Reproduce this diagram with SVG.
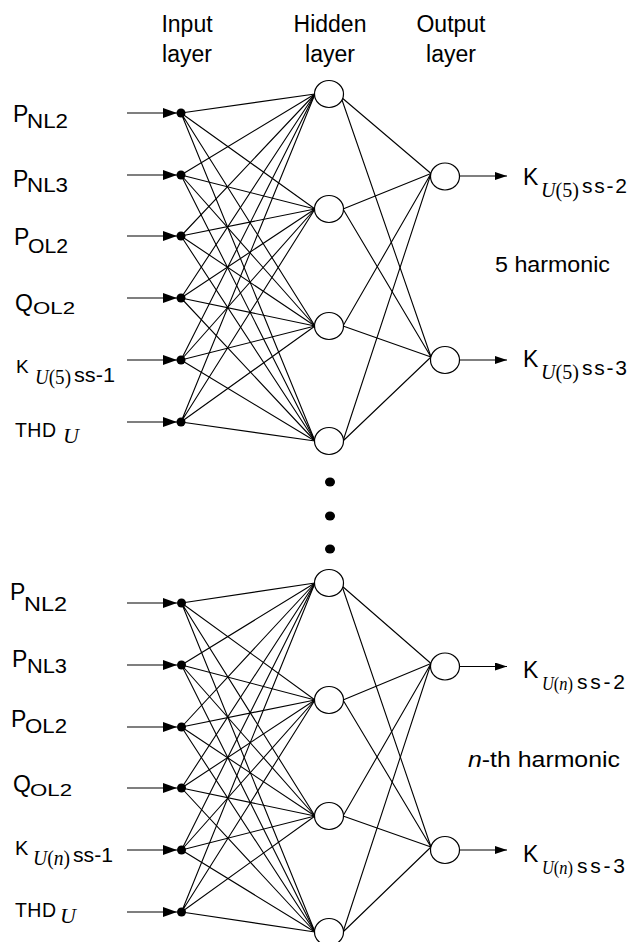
<svg xmlns="http://www.w3.org/2000/svg" width="631" height="942" viewBox="0 0 631 942">
<style>
.t{font-family:"Liberation Sans",Arial,sans-serif;fill:#000}
.s{font-family:"Liberation Serif","Times New Roman",serif;fill:#000}
.i{font-style:italic}
.h{font-size:23px;text-anchor:middle}
.c{stroke:#000;stroke-width:1.1;fill:none}
.n{fill:#fff;stroke:#000;stroke-width:1.2}
.d{fill:#000}
</style>
<defs>
<marker id="ai" markerUnits="userSpaceOnUse" markerWidth="14" markerHeight="10" refX="14" refY="5" orient="auto"><path d="M0,0L14,5L0,10z" fill="#000"/></marker>
<marker id="ao" markerUnits="userSpaceOnUse" markerWidth="12" markerHeight="8" refX="12" refY="4" orient="auto"><path d="M0,0L12,4L0,8z" fill="#000"/></marker>
</defs>
<rect width="631" height="942" fill="#fff"/>
<g id="headers">
<text class="t h" x="187" y="32">Input</text><text class="t h" x="187" y="62">layer</text>
<text class="t h" x="330" y="32">Hidden</text><text class="t h" x="330" y="62">layer</text>
<text class="t h" x="451" y="32">Output</text><text class="t h" x="451" y="62">layer</text>
</g>
<g id="connectors">
<g id="input-arrows" class="c">
<line x1="127" y1="113" x2="177" y2="113" marker-end="url(#ai)"/>
<line x1="127" y1="175" x2="177" y2="175" marker-end="url(#ai)"/>
<line x1="127" y1="236" x2="177" y2="236" marker-end="url(#ai)"/>
<line x1="127" y1="298" x2="177" y2="298" marker-end="url(#ai)"/>
<line x1="127" y1="360" x2="177" y2="360" marker-end="url(#ai)"/>
<line x1="127" y1="422" x2="177" y2="422" marker-end="url(#ai)"/>
<line x1="127" y1="603" x2="177" y2="603" marker-end="url(#ai)"/>
<line x1="127" y1="665" x2="177" y2="665" marker-end="url(#ai)"/>
<line x1="127" y1="727" x2="177" y2="727" marker-end="url(#ai)"/>
<line x1="127" y1="788" x2="177" y2="788" marker-end="url(#ai)"/>
<line x1="127" y1="850" x2="177" y2="850" marker-end="url(#ai)"/>
<line x1="127" y1="912" x2="177" y2="912" marker-end="url(#ai)"/>
</g>
<g id="input-hidden" class="c">
<path d="M181 113L315 94M181 113L315 209M181 113L315 326M181 113L315 441"/>
<path d="M181 175L315 94M181 175L315 209M181 175L315 326M181 175L315 441"/>
<path d="M181 236L315 94M181 236L315 209M181 236L315 326M181 236L315 441"/>
<path d="M181 298L315 94M181 298L315 209M181 298L315 326M181 298L315 441"/>
<path d="M181 360L315 94M181 360L315 209M181 360L315 326M181 360L315 441"/>
<path d="M181 422L315 94M181 422L315 209M181 422L315 326M181 422L315 441"/>
<path d="M181.5 603L315 583M181.5 603L315 700M181.5 603L315 816M181.5 603L315 932"/>
<path d="M181.5 665L315 583M181.5 665L315 700M181.5 665L315 816M181.5 665L315 932"/>
<path d="M181.5 727L315 583M181.5 727L315 700M181.5 727L315 816M181.5 727L315 932"/>
<path d="M181.5 788L315 583M181.5 788L315 700M181.5 788L315 816M181.5 788L315 932"/>
<path d="M181.5 850L315 583M181.5 850L315 700M181.5 850L315 816M181.5 850L315 932"/>
<path d="M181.5 912L315 583M181.5 912L315 700M181.5 912L315 816M181.5 912L315 932"/>
</g>
<g id="hidden-output" class="c">
<path d="M341 97L431 173.5M341 97L431 357"/>
<path d="M343 209L431 173.5M343 209L431 357"/>
<path d="M343 326L431 173.5M343 326L431 357"/>
<path d="M343 441L431 173.5M343 441L431 357"/>
<path d="M342 586L431 663.5M342 586L431 847"/>
<path d="M343 700L431 663.5M343 700L431 847"/>
<path d="M343 816L431 663.5M343 816L431 847"/>
<path d="M343 932L431 663.5M343 932L431 847"/>
</g>
<g id="output-arrows" class="c">
<line x1="459" y1="176" x2="507" y2="176" marker-end="url(#ao)"/>
<line x1="459" y1="360" x2="507" y2="360" marker-end="url(#ao)"/>
<line x1="459" y1="666.5" x2="507" y2="666.5" marker-end="url(#ao)"/>
<line x1="459" y1="850" x2="507" y2="850" marker-end="url(#ao)"/>
</g>
</g>
<g id="input-nodes" class="d">
<circle cx="181" cy="113" r="4.5"/><circle cx="181" cy="175" r="4.5"/><circle cx="181" cy="236" r="4.5"/>
<circle cx="181" cy="298" r="4.5"/><circle cx="181" cy="360" r="4.5"/><circle cx="181" cy="422" r="4.5"/>
<circle cx="181.5" cy="603" r="4.5"/><circle cx="181.5" cy="665" r="4.5"/><circle cx="181.5" cy="727" r="4.5"/>
<circle cx="181.5" cy="788" r="4.5"/><circle cx="181.5" cy="850" r="4.5"/><circle cx="181.5" cy="912" r="4.5"/>
</g>
<g id="hidden-nodes">
<ellipse id="h1" class="n" cx="329" cy="94" rx="14.5" ry="13.5"/>
<ellipse id="h2" class="n" cx="329" cy="209" rx="14.5" ry="13.5"/>
<ellipse id="h3" class="n" cx="329" cy="326" rx="14.5" ry="13.5"/>
<ellipse id="h4" class="n" cx="329" cy="441" rx="14.5" ry="13.5"/>
<ellipse id="h5" class="n" cx="329" cy="583" rx="14.5" ry="13.5"/>
<ellipse id="h6" class="n" cx="329" cy="700" rx="14.5" ry="13.5"/>
<ellipse id="h7" class="n" cx="329" cy="816" rx="14.5" ry="13.5"/>
<ellipse id="h8" class="n" cx="329" cy="932" rx="14.5" ry="13.5"/>
</g>
<g id="ellipsis" class="d">
<ellipse cx="330" cy="482" rx="5" ry="4.5"/><ellipse cx="330" cy="516" rx="5" ry="4.5"/><ellipse cx="330" cy="549" rx="5" ry="4.5"/>
</g>
<g id="output-nodes">
<ellipse id="o1" class="n" cx="445" cy="176.5" rx="14.5" ry="13.5"/>
<ellipse id="o2" class="n" cx="445" cy="360" rx="14.5" ry="13.5"/>
<ellipse id="o3" class="n" cx="445" cy="666.5" rx="14.5" ry="13.5"/>
<ellipse id="o4" class="n" cx="445" cy="850" rx="14.5" ry="13.5"/>
</g>
<g id="input-labels-5">
<text class="t" x="13" y="122" font-size="23">P</text><text class="t" x="27" y="128" font-size="20" textLength="41" lengthAdjust="spacingAndGlyphs">NL2</text>
<text class="t" x="13" y="187" font-size="23">P</text><text class="t" x="27" y="192" font-size="20" textLength="41" lengthAdjust="spacingAndGlyphs">NL3</text>
<text class="t" x="14" y="245" font-size="23">P</text><text class="t" x="28" y="253" font-size="20" textLength="40" lengthAdjust="spacingAndGlyphs">OL2</text>
<text class="t" x="15" y="311" font-size="23">Q</text><text class="t" x="33" y="314" font-size="16" textLength="42" lengthAdjust="spacingAndGlyphs">OL2</text>
<text class="t" x="16" y="373" font-size="19">K</text><text class="s" x="35" y="384" font-size="20" textLength="36" lengthAdjust="spacingAndGlyphs"><tspan class="i">U</tspan>(5)</text><text class="t" x="74" y="382" font-size="20" textLength="41" lengthAdjust="spacingAndGlyphs">ss-1</text>
<text class="t" x="15" y="437" font-size="19.5" textLength="41" lengthAdjust="spacing">THD</text><text class="s i" x="63" y="443" font-size="22">U</text>
</g>
<g id="input-labels-n">
<text class="t" x="10" y="600" font-size="23">P</text><text class="t" x="24" y="611" font-size="20" textLength="43" lengthAdjust="spacingAndGlyphs">NL2</text>
<text class="t" x="12" y="667" font-size="23">P</text><text class="t" x="27" y="673" font-size="20" textLength="40" lengthAdjust="spacingAndGlyphs">NL3</text>
<text class="t" x="11" y="727" font-size="23">P</text><text class="t" x="25" y="733" font-size="20" textLength="42" lengthAdjust="spacingAndGlyphs">OL2</text>
<text class="t" x="13" y="791.5" font-size="23">Q</text><text class="t" x="30" y="796" font-size="16" textLength="42" lengthAdjust="spacingAndGlyphs">OL2</text>
<text class="t" x="15" y="855" font-size="20">K</text><text class="s" x="33" y="865" font-size="20" textLength="37" lengthAdjust="spacingAndGlyphs"><tspan class="i">U</tspan>(<tspan class="i">n</tspan>)</text><text class="t" x="73" y="862" font-size="20" textLength="40" lengthAdjust="spacingAndGlyphs">ss-1</text>
<text class="t" x="15" y="917" font-size="19.5" textLength="41" lengthAdjust="spacing">THD</text><text class="s i" x="60" y="923" font-size="22">U</text>
</g>
<g id="output-labels">
<text class="t" x="523" y="185" font-size="23">K</text><text class="s" x="541" y="197" font-size="20" textLength="38" lengthAdjust="spacingAndGlyphs"><tspan class="i">U</tspan>(5)</text><text class="t" x="582" y="193" font-size="21" textLength="45" lengthAdjust="spacing">ss-2</text>
<text class="t" x="523" y="367" font-size="23">K</text><text class="s" x="541" y="379" font-size="20" textLength="38" lengthAdjust="spacingAndGlyphs"><tspan class="i">U</tspan>(5)</text><text class="t" x="582" y="375" font-size="21" textLength="45" lengthAdjust="spacing">ss-3</text>
<text class="t" x="495" y="272" font-size="22" textLength="115" lengthAdjust="spacingAndGlyphs">5 harmonic</text>
<text class="t" x="523" y="678" font-size="23">K</text><text class="s" x="542" y="690" font-size="18" textLength="31" lengthAdjust="spacingAndGlyphs"><tspan class="i">U</tspan>(<tspan class="i">n</tspan>)</text><text class="t" x="577" y="689" font-size="21" textLength="48" lengthAdjust="spacing">ss-2</text>
<text class="t" x="523" y="862" font-size="23">K</text><text class="s" x="542" y="874" font-size="18" textLength="31" lengthAdjust="spacingAndGlyphs"><tspan class="i">U</tspan>(<tspan class="i">n</tspan>)</text><text class="t" x="577" y="873" font-size="21" textLength="48" lengthAdjust="spacing">ss-3</text>
<text class="t" x="468" y="767" font-size="22" textLength="152" lengthAdjust="spacingAndGlyphs"><tspan class="i">n</tspan>-th  harmonic</text>
</g>
</svg>
